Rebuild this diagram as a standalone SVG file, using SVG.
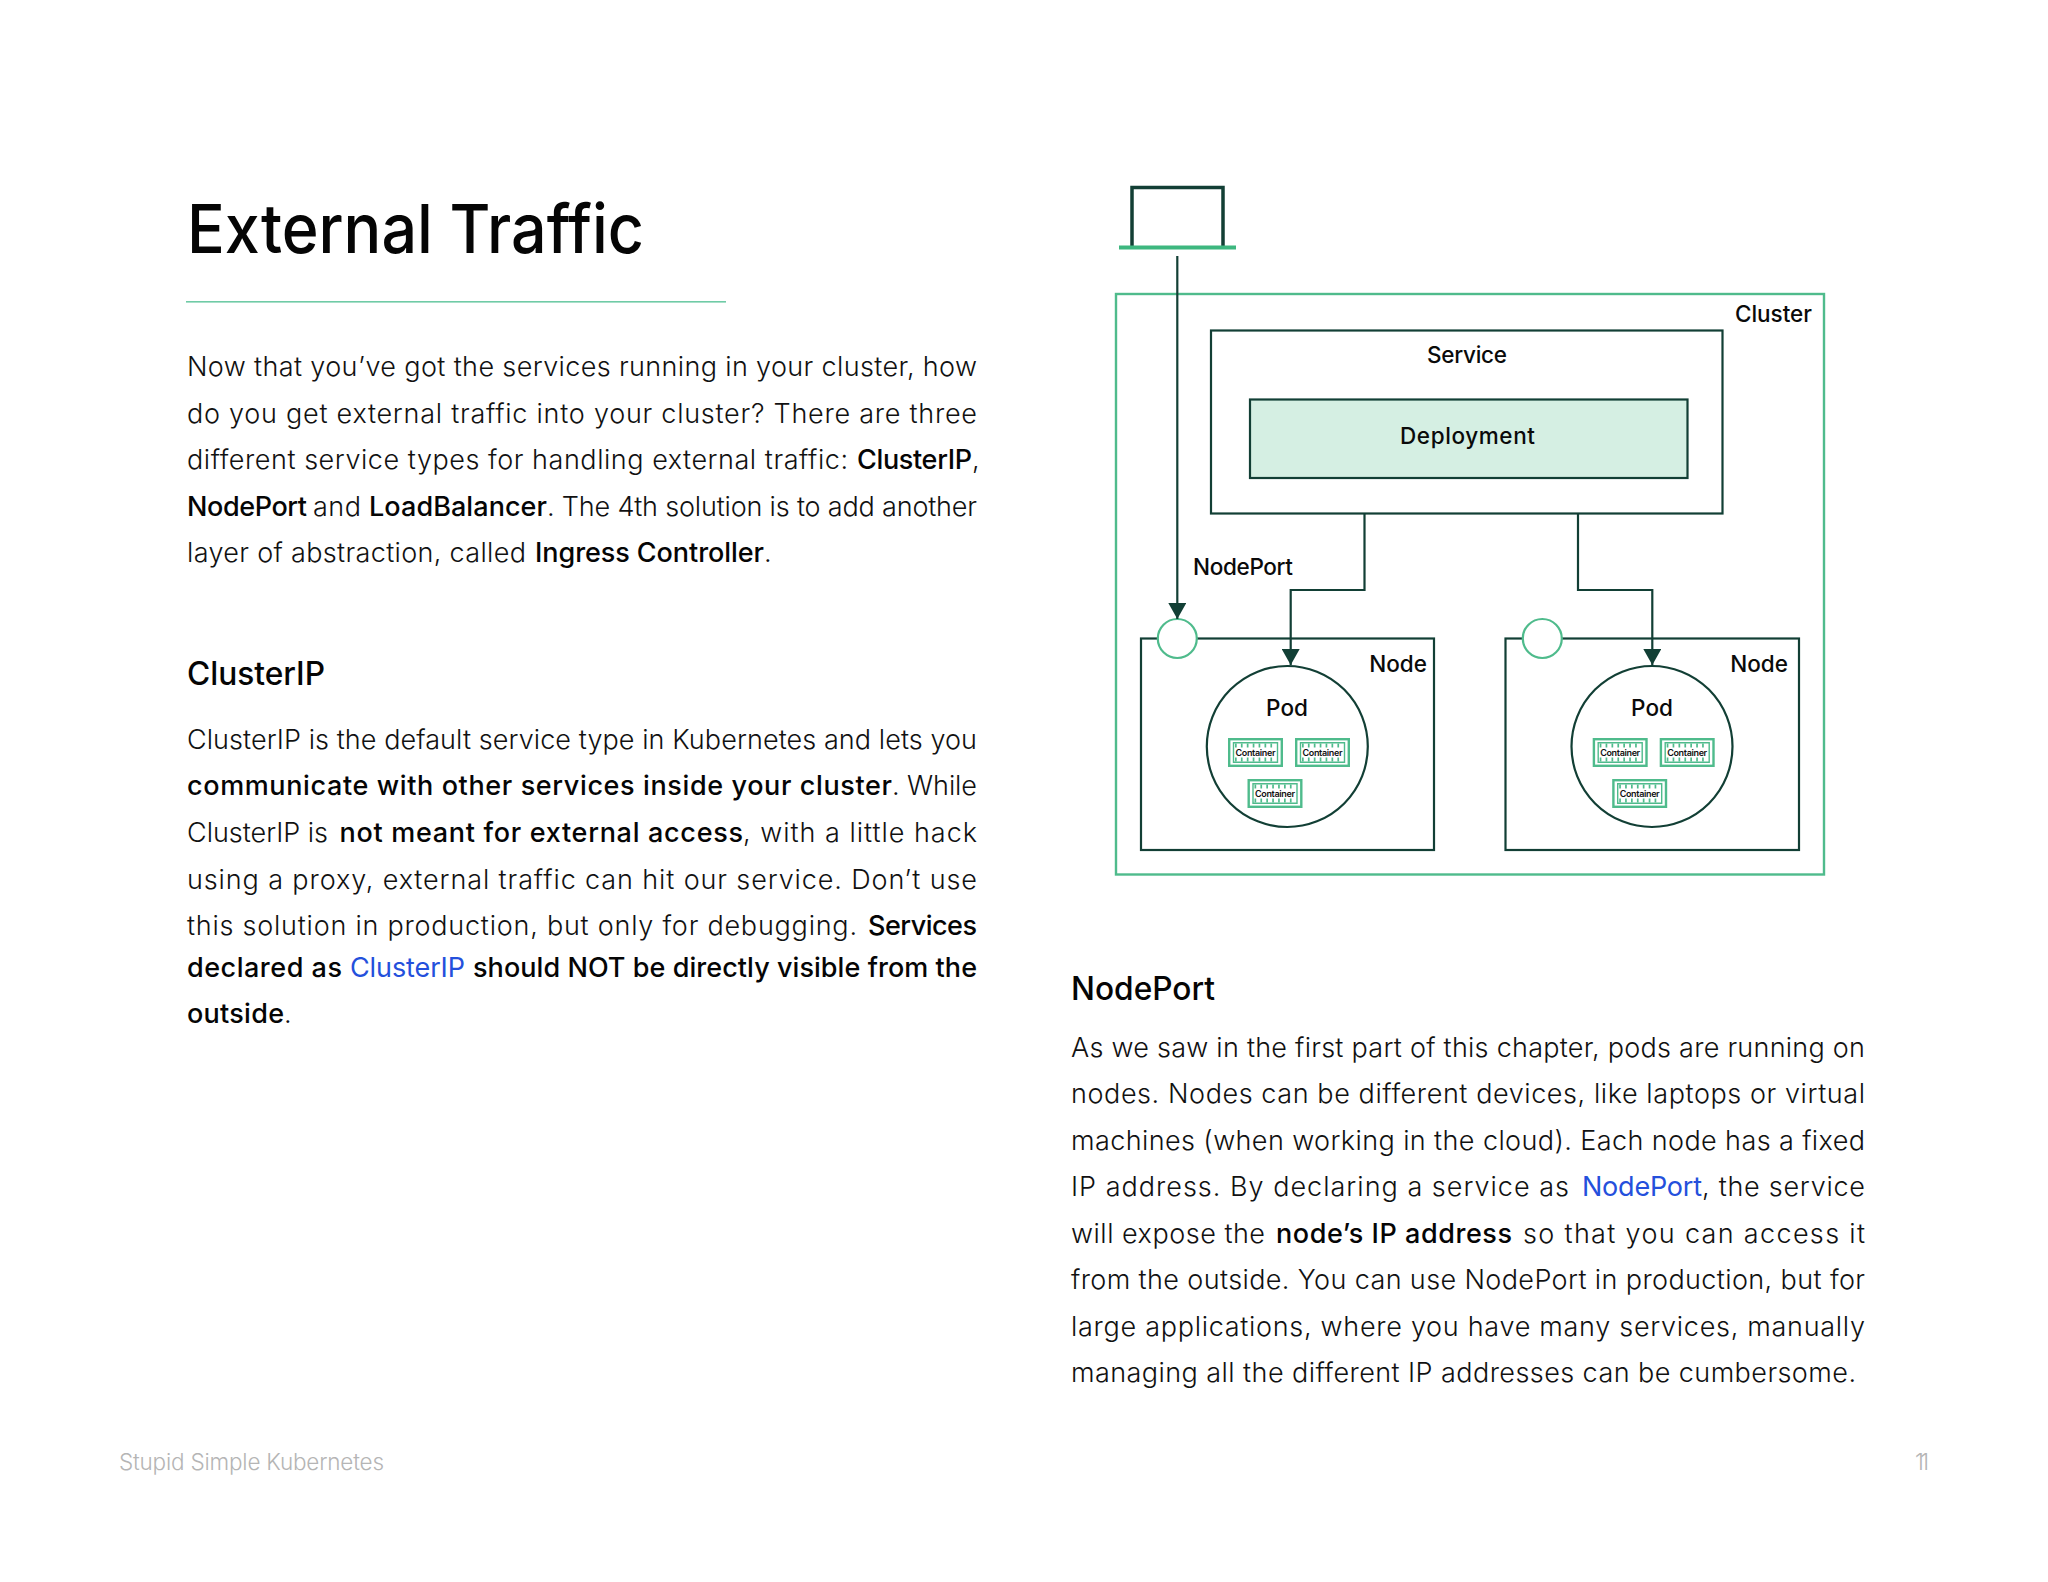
<svg xmlns="http://www.w3.org/2000/svg" width="2048" height="1582" viewBox="0 0 2048 1582">
<style>
text{font-family:"Inter","Noto Sans","Liberation Sans",sans-serif;fill:#111}
.t{font-size:27px;font-weight:300}
.s{font-size:27px;font-weight:500;fill:#050505}
.a{font-size:27px;font-weight:400;fill:#2450dc}
.h{font-size:32px;font-weight:500;fill:#050505}
.l{font-size:22.500px;font-weight:500;fill:#0a0a0a}
.c{font-size:9px;font-weight:600;text-anchor:middle}
.f{font-size:22.500px;font-weight:300;fill:#b5b5b5}
.d{fill:none;stroke:#123f35;stroke-width:2.200}
.g{fill:none;stroke:#4fbb8c;stroke-width:2.400}
</style>
<defs>
<marker id="ah" markerUnits="userSpaceOnUse" markerWidth="16" markerHeight="18" refX="16" refY="9" orient="auto"><path d="M0 0L16 9L0 18Z" fill="#123f35"/></marker>
<g id="chip">
<rect x="1.200" y="1.200" width="52.600" height="26.600" fill="#fff" stroke="#4fbb8c" stroke-width="2.400"/>
<path d="M5.500 4.800H49.500V24.200H5.500Z" fill="none" stroke="#4fbb8c" stroke-width="1.400"/>
<path d="M7 7.500H48M7 21.500H48" fill="none" stroke="#4fbb8c" stroke-width="4" stroke-dasharray="1.700 4.200"/>
</g>
</defs>
<rect width="2048" height="1582" fill="#fff"/>

<g id="page-text">
<text x="187" y="253" textLength="457" lengthAdjust="spacingAndGlyphs" style="font-size:68px;font-weight:500;fill:#050505">External Traffic</text>
<rect x="186" y="301" width="540" height="1.600" fill="#6fcba6"/>

<text class="t" x="187" y="376" textLength="790">Now that you’ve got the services running in your cluster, how</text>
<text class="t" x="187" y="422.500" textLength="790">do you get external traffic into your cluster? There are three</text>
<text class="t" x="187" y="469" textLength="661">different service types for handling external traffic:</text>
<text class="s" x="857" y="469" textLength="115">ClusterIP</text><text class="t" x="972" y="469">,</text>
<text class="s" x="187" y="515.500" textLength="120">NodePort</text>
<text class="t" x="313" y="515.500" textLength="48">and</text>
<text class="s" x="369" y="515.500" textLength="178">LoadBalancer</text>
<text class="t" x="547" y="515.500" textLength="430">. The 4th solution is to add another</text>
<text class="t" x="187" y="562" textLength="339">layer of abstraction, called</text>
<text class="s" x="535" y="562" textLength="229">Ingress Controller</text><text class="t" x="764" y="562">.</text>

<text class="h" x="187" y="684.500" textLength="138" lengthAdjust="spacingAndGlyphs">ClusterIP</text>

<text class="t" x="187" y="749" textLength="790">ClusterIP is the default service type in Kubernetes and lets you</text>
<text class="s" x="187" y="795" textLength="705">communicate with other services inside your cluster</text>
<text class="t" x="892" y="795" textLength="85">. While</text>
<text class="t" x="187" y="842" textLength="141">ClusterIP is</text>
<text class="s" x="339.500" y="842" textLength="403.500">not meant for external access</text>
<text class="t" x="743" y="842" textLength="234">, with a little hack</text>
<text class="t" x="187" y="889" textLength="790">using a proxy, external traffic can hit our service. Don’t use</text>
<text class="t" x="187" y="935" textLength="670">this solution in production, but only for debugging.</text>
<text class="s" x="868" y="935" textLength="109">Services</text>
<text class="s" x="187" y="976.500" textLength="155">declared as</text>
<text class="a" x="350" y="976.500" textLength="115">ClusterIP</text>
<text class="s" x="473" y="976.500" textLength="504">should NOT be directly visible from the</text>
<text class="s" x="187" y="1023" textLength="97">outside</text><text class="t" x="284" y="1023">.</text>

<text class="h" x="1071" y="999.500" textLength="144" lengthAdjust="spacingAndGlyphs">NodePort</text>

<text class="t" x="1071" y="1056.500" textLength="794">As we saw in the first part of this chapter, pods are running on</text>
<text class="t" x="1071" y="1103" textLength="794">nodes. Nodes can be different devices, like laptops or virtual</text>
<text class="t" x="1071" y="1149.500" textLength="794">machines (when working in the cloud). Each node has a fixed</text>
<text class="t" x="1071" y="1196" textLength="498">IP address. By declaring a service as</text>
<text class="a" x="1582" y="1196" textLength="120">NodePort</text>
<text class="t" x="1702" y="1196" textLength="163">, the service</text>
<text class="t" x="1071" y="1242.500" textLength="194">will expose the</text>
<text class="s" x="1276" y="1242.500" textLength="236">node’s IP address</text>
<text class="t" x="1523" y="1242.500" textLength="342">so that you can access it</text>
<text class="t" x="1071" y="1289" textLength="794">from the outside. You can use NodePort in production, but for</text>
<text class="t" x="1071" y="1335.500" textLength="794">large applications, where you have many services, manually</text>
<text class="t" x="1071" y="1382" textLength="785">managing all the different IP addresses can be cumbersome.</text>

<text class="f" x="119" y="1470" textLength="265">Stupid Simple Kubernetes</text>
<text class="f" x="1915" y="1470" textLength="14">11</text>
</g>

<g id="laptop">
<path class="d" d="M1132 247V187.500H1223V247" style="stroke-width:3.500"/>
<path d="M1119 247.500H1236" stroke="#3db77f" stroke-width="4" fill="none"/>
</g>

<g id="cluster">
<rect class="g" x="1116" y="294" width="708" height="580.500"/>
<text class="l" x="1735" y="321.500" textLength="77">Cluster</text>
</g>

<g id="service">
<rect class="d" x="1211" y="330.500" width="511.500" height="183" fill="#fff"/>
<text class="l" x="1467" y="362.500" text-anchor="middle" textLength="80">Service</text>
</g>

<g id="deployment">
<rect x="1250" y="399.500" width="437.500" height="78.500" fill="#d5efe3" stroke="#123f35" stroke-width="2.200"/>
<text class="l" x="1467.500" y="443.500" text-anchor="middle" textLength="135">Deployment</text>
</g>

<g id="node-1">
<rect class="d" x="1141" y="638.500" width="293" height="211.500"/>
<text class="l" x="1427" y="671.500" text-anchor="end">Node</text>
</g>
<g id="port-1"><circle cx="1177.300" cy="638.500" r="19.500" fill="#fff" stroke="#4fbb8c" stroke-width="2.200"/></g>
<g id="pod-1">
<circle class="d" cx="1287.300" cy="746.500" r="80.500"/>
<text class="l" x="1287" y="715.500" text-anchor="middle">Pod</text>
</g>
<g id="container-1a"><use href="#chip" x="1228" y="738"/><text class="c" x="1255.500" y="755.500" textLength="40">Container</text></g>
<g id="container-1b"><use href="#chip" x="1295" y="738"/><text class="c" x="1322.500" y="755.500" textLength="40">Container</text></g>
<g id="container-1c"><use href="#chip" x="1247.500" y="779"/><text class="c" x="1275" y="796.500" textLength="40">Container</text></g>

<g id="node-2">
<rect class="d" x="1505.500" y="638.500" width="293.500" height="211.500"/>
<text class="l" x="1788" y="671.500" text-anchor="end">Node</text>
</g>
<g id="port-2"><circle cx="1542.300" cy="638.500" r="19.500" fill="#fff" stroke="#4fbb8c" stroke-width="2.200"/></g>
<g id="pod-2">
<circle class="d" cx="1652" cy="746.500" r="80.500"/>
<text class="l" x="1652" y="715.500" text-anchor="middle">Pod</text>
</g>
<g id="container-2a"><use href="#chip" x="1592.700" y="738"/><text class="c" x="1620.200" y="755.500" textLength="40">Container</text></g>
<g id="container-2b"><use href="#chip" x="1659.700" y="738"/><text class="c" x="1687.200" y="755.500" textLength="40">Container</text></g>
<g id="container-2c"><use href="#chip" x="1612.200" y="779"/><text class="c" x="1639.700" y="796.500" textLength="40">Container</text></g>

<g id="connectors">
<path class="d" d="M1177.300 256V619" marker-end="url(#ah)"/>
<path class="d" d="M1364.500 513.500V590H1290.700V665" marker-end="url(#ah)"/>
<path class="d" d="M1578 513.500V590H1652.300V665" marker-end="url(#ah)"/>
</g>
<text class="l" id="nodeport-label" x="1193" y="574.500" textLength="100">NodePort</text>
</svg>
